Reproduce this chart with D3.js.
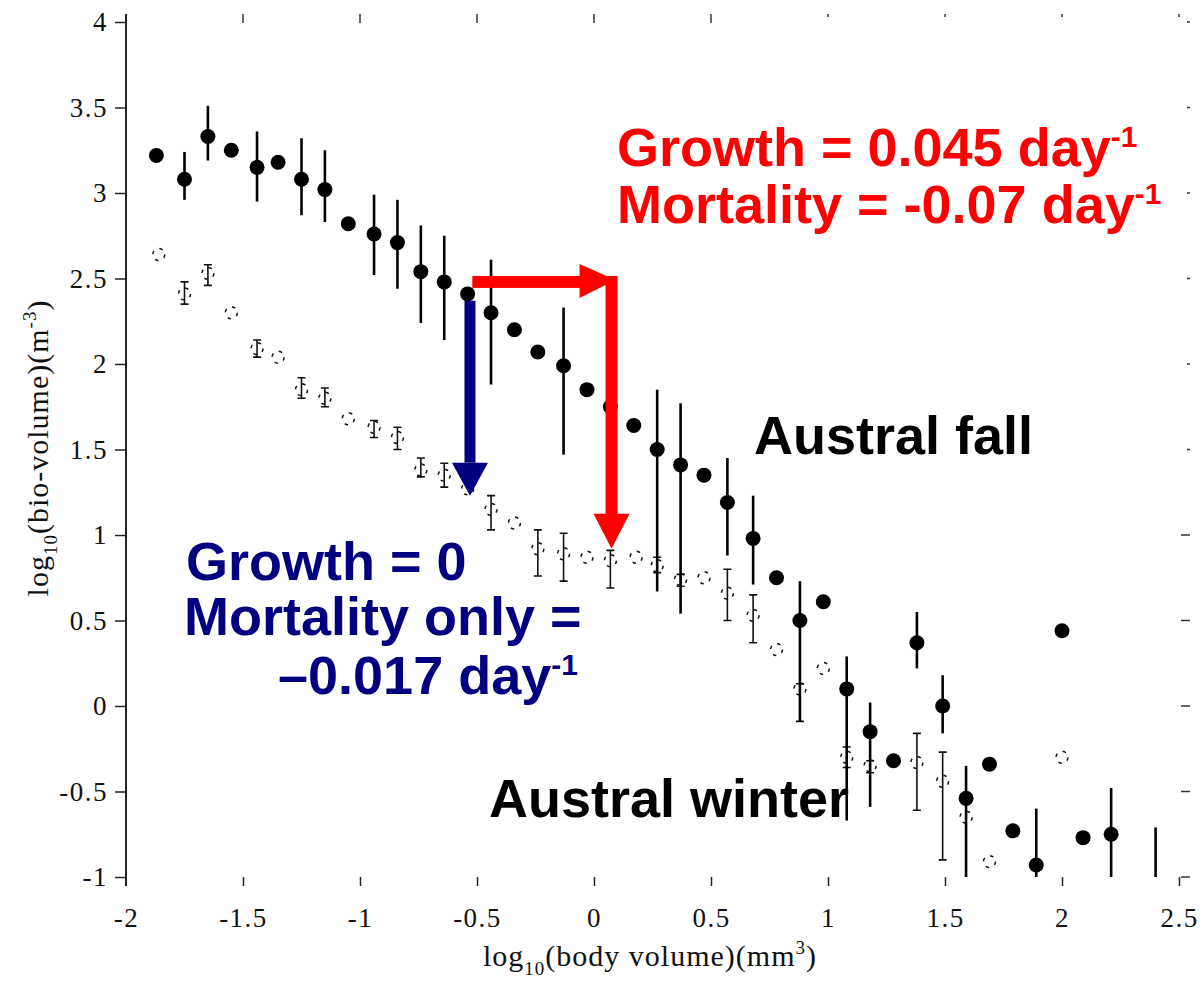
<!DOCTYPE html>
<html>
<head>
<meta charset="utf-8">
<script src="https://cdn.jsdelivr.net/npm/d3@7"></script>
<style>
  html, body { margin: 0; padding: 0; background: #fff; }
  svg { display: block; }
</style>
</head>
<body>
<svg id="chart" width="1203" height="987"></svg>
<script>
// Size spectra: log10 bio-volume against log10 body volume, two seasons.
const xTicks = [-2, -1.5, -1, -0.5, 0, 0.5, 1, 1.5, 2, 2.5];
const yTicks = [-1, -0.5, 0, 0.5, 1, 1.5, 2, 2.5, 3, 3.5, 4];

// Austral fall (filled markers); null = no error bar drawn
const fallX  = [-1.87,-1.75,-1.65,-1.55,-1.44,-1.35,-1.25,-1.15,-1.05,-0.94,-0.84,-0.74,-0.64,-0.54,-0.44,-0.34,-0.24,-0.13,-0.03,0.07,0.17,0.27,0.37,0.47,0.57,0.68,0.78,0.88,0.98,1.08,1.18,1.28,1.38,1.49,1.59,1.69,1.79,1.89,2.00,2.09,2.21,2.40];
const fallY  = [3.22,3.08,3.33,3.25,3.15,3.18,3.08,3.02,2.82,2.76,2.71,2.54,2.48,2.41,2.30,2.20,2.07,1.99,1.85,1.75,1.64,1.50,1.41,1.35,1.19,0.98,0.75,0.50,0.61,0.10,-0.15,-0.32,0.37,0.00,-0.54,-0.34,-0.73,-0.93,0.44,-0.77,-0.75,-1.15];
const fallHi = [null,3.24,3.51,null,3.36,null,3.32,3.25,null,2.99,2.96,2.81,2.75,null,2.61,null,null,2.33,null,null,null,1.85,1.77,null,1.45,1.23,null,0.73,null,0.29,0.02,null,0.55,0.18,-0.35,null,null,-0.60,null,null,-0.48,-0.71];
const fallLo = [null,2.96,3.19,null,2.95,null,2.87,2.83,null,2.52,2.44,2.24,2.14,null,1.88,null,null,1.47,null,null,null,0.67,0.54,null,0.88,0.71,null,-0.09,null,-0.67,-0.59,null,0.22,-0.16,-1.00,null,null,-1.00,null,null,-1.00,-1.00];

// Austral winter (open markers)
const winterX  = [-1.86,-1.75,-1.65,-1.55,-1.44,-1.35,-1.25,-1.15,-1.05,-0.94,-0.84,-0.74,-0.64,-0.54,-0.44,-0.34,-0.24,-0.13,-0.03,0.07,0.18,0.27,0.37,0.47,0.57,0.68,0.78,0.88,0.98,1.08,1.18,1.38,1.49,1.59,1.69,2.00];
const winterY  = [2.64,2.41,2.53,2.30,2.09,2.04,1.85,1.80,1.68,1.63,1.57,1.38,1.35,1.27,1.15,1.07,0.92,0.89,0.87,0.85,0.87,0.82,0.74,0.75,0.66,0.53,0.33,0.10,0.22,-0.30,-0.35,-0.33,-0.44,-0.65,-0.91,-0.30];
const winterHi = [null,2.48,2.58,null,2.14,null,1.92,1.86,null,1.67,1.63,1.45,1.42,null,1.23,null,1.03,1.01,null,0.91,null,0.87,0.77,null,0.80,0.65,null,0.13,null,-0.24,-0.32,-0.16,-0.27,null,null,null];
const winterLo = [null,2.35,2.46,null,2.04,null,1.80,1.75,null,1.57,1.50,1.34,1.28,null,1.03,null,0.76,0.73,null,0.69,null,0.78,0.70,null,0.50,0.37,null,-0.09,null,-0.36,-0.39,-0.61,-0.90,null,null,null];

const svg = d3.select("#chart");
const x = d3.scaleLinear().domain([-2, 2.5]).range([126, 1179]);
const y = d3.scaleLinear().domain([-1, 4]).range([877, 22]);

const serif = "'Liberation Serif', 'Times New Roman', serif";
const sans = "'Liberation Sans', Arial, sans-serif";

// clip region for the data
svg.append("defs").append("clipPath").attr("id", "plotClip")
  .append("rect").attr("x", 126).attr("y", 14).attr("width", 1064).attr("height", 864);

// ---- axes ----
const fmt = d => String(d);

const gLeft = svg.append("g").attr("transform", "translate(126,0)")
  .call(d3.axisLeft(y).tickValues(yTicks).tickSize(11).tickPadding(7).tickFormat(fmt));
gLeft.select(".domain").remove();
gLeft.selectAll(".tick line").attr("stroke", "#222").attr("stroke-width", 1.5);
gLeft.selectAll(".tick text").attr("font-family", serif).attr("font-size", 27)
  .attr("letter-spacing", 1.5).attr("fill", "#111");
svg.append("line").attr("x1", 126).attr("x2", 126).attr("y1", 14).attr("y2", 886)
  .attr("stroke", "#222").attr("stroke-width", 2);

const gBottom = svg.append("g").attr("transform", "translate(0,877)")
  .call(d3.axisBottom(x).tickValues(xTicks).tickSize(9).tickPadding(22).tickFormat(fmt));
gBottom.select(".domain").remove();
gBottom.selectAll(".tick line").attr("stroke", "#222").attr("stroke-width", 1.5)
  .attr("opacity", d => d === -2 ? 0 : 1);
gBottom.selectAll(".tick text").attr("font-family", serif).attr("font-size", 27)
  .attr("letter-spacing", 1.5).attr("fill", "#111");

// inward ticks on the top and right edges of the frame
svg.append("g").selectAll("line").data(xTicks.filter(d => d > -2)).join("line")
  .attr("x1", d => x(d)).attr("x2", d => x(d))
  .attr("y1", 14).attr("y2", d => d <= 0.5 ? 23 : 17)
  .attr("stroke", "#333").attr("stroke-width", 1.5);
svg.append("g").selectAll("line").data(yTicks).join("line")
  .attr("x1", d => d <= 1 ? 1181 : 1187).attr("x2", 1190)
  .attr("y1", d => y(d)).attr("y2", d => y(d))
  .attr("stroke", "#333").attr("stroke-width", 1.5);

// axis titles
const xt = svg.append("text").attr("x", 650).attr("y", 966).attr("text-anchor", "middle")
  .attr("font-family", serif).attr("font-size", 30).attr("letter-spacing", 1).attr("fill", "#111");
xt.append("tspan").text("log");
xt.append("tspan").attr("font-size", 19).attr("dy", 9).text("10");
xt.append("tspan").attr("dy", -9).text("(body volume)(mm");
xt.append("tspan").attr("font-size", 19).attr("dy", -12).text("3");
xt.append("tspan").attr("dy", 12).text(")");

const yt = svg.append("text").attr("transform", "translate(48,448) rotate(-90)")
  .attr("text-anchor", "middle").attr("font-family", serif).attr("font-size", 30)
  .attr("letter-spacing", 1).attr("fill", "#111");
yt.append("tspan").text("log");
yt.append("tspan").attr("font-size", 19).attr("dy", 9).text("10");
yt.append("tspan").attr("dy", -9).text("(bio-volume)(m");
yt.append("tspan").attr("font-size", 19).attr("dy", -12).text("-3");
yt.append("tspan").attr("dy", 12).text(")");

// ---- data ----
const plot = svg.append("g").attr("clip-path", "url(#plotClip)");

const fall = fallX.map((v, i) => ({ x: v, y: fallY[i], lo: fallLo[i], hi: fallHi[i] }));
const winter = winterX.map((v, i) => ({ x: v, y: winterY[i], lo: winterLo[i], hi: winterHi[i] }));

// winter error bars with caps
const wb = winter.filter(d => d.lo !== null);
plot.append("g").selectAll("line").data(wb).join("line")
  .attr("x1", d => x(d.x)).attr("x2", d => x(d.x))
  .attr("y1", d => y(d.hi)).attr("y2", d => y(d.lo))
  .attr("stroke", "#111").attr("stroke-width", 1.6);
plot.append("g").selectAll("path").data(wb).join("path")
  .attr("d", d => `M${x(d.x) - 4},${y(d.hi)}H${x(d.x) + 4}M${x(d.x) - 4},${y(d.lo)}H${x(d.x) + 4}`)
  .attr("stroke", "#111").attr("stroke-width", 1.6).attr("fill", "none");
// winter open markers (dashed outline)
plot.append("g").selectAll("circle").data(winter).join("circle")
  .attr("cx", d => x(d.x)).attr("cy", d => y(d.y)).attr("r", 6)
  .attr("fill", "none").attr("stroke", "#111").attr("stroke-width", 1.5)
  .attr("stroke-dasharray", "3.5 5.9");

// fall error bars
plot.append("g").selectAll("line").data(fall.filter(d => d.lo !== null)).join("line")
  .attr("x1", d => x(d.x)).attr("x2", d => x(d.x))
  .attr("y1", d => y(d.hi)).attr("y2", d => y(d.lo))
  .attr("stroke", "#000").attr("stroke-width", 2.6);
// fall filled markers
plot.append("g").selectAll("circle").data(fall).join("circle")
  .attr("cx", d => x(d.x)).attr("cy", d => y(d.y)).attr("r", 7.5)
  .attr("fill", "#000");

// ---- annotations ----
// red: growth step along x, then mortality step down
const rx0 = x(-0.52), rx1 = x(0.075), ry0 = y(2.48), ry1 = y(0.92);
const red = svg.append("g").attr("fill", "#ff0000");
red.append("rect").attr("x", rx0).attr("y", ry0 - 6).attr("width", rx1 - 30 - rx0).attr("height", 12);
red.append("path").attr("d", `M${rx1 - 32},${ry0 - 18}L${rx1 + 4},${ry0 - 2}L${rx1 - 32},${ry0 + 16}Z`);
red.append("rect").attr("x", rx1 - 6).attr("y", ry0 - 6).attr("width", 12).attr("height", ry1 - 34 - (ry0 - 6));
red.append("path").attr("d", `M${rx1 - 18},${ry1 - 35}L${rx1 + 18},${ry1 - 35}L${rx1},${ry1}Z`);

// blue: mortality only
const bx = x(-0.53), by0 = y(2.37), by1 = y(1.23);
const blue = svg.append("g").attr("fill", "#000080");
blue.append("rect").attr("x", bx - 5.5).attr("y", by0).attr("width", 11).attr("height", by1 - 33 - by0);
blue.append("path").attr("d", `M${bx - 18},${by1 - 33}L${bx + 18},${by1 - 33}L${bx},${by1}Z`);

// text labels
function label(xp, yp, color, parts) {
  const t = svg.append("text").attr("x", xp).attr("y", yp)
    .attr("font-family", sans).attr("font-weight", "bold").attr("font-size", 54).attr("fill", color);
  parts.forEach(p => {
    if (p.sup) t.append("tspan").attr("font-size", 30).attr("dy", -19).text(p.sup);
    else t.append("tspan").text(p.t);
  });
  return t;
}
label(617, 166, "#ff0000", [{ t: "Growth = 0.045 day" }, { sup: "-1" }]);
label(617, 223, "#ff0000", [{ t: "Mortality = -0.07 day" }, { sup: "-1" }]);
label(186, 580, "#000080", [{ t: "Growth = 0" }]);
label(184, 635, "#000080", [{ t: "Mortality only =" }]);
label(278, 694, "#000080", [{ t: "\u20130.017 day" }, { sup: "-1" }]);
label(754, 454, "#000", [{ t: "Austral fall" }]);
label(489, 817, "#000", [{ t: "Austral winter" }]);
</script>
</body>
</html>
